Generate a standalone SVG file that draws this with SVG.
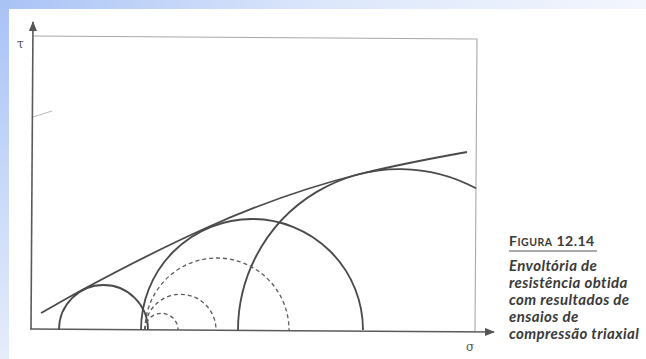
<svg xmlns="http://www.w3.org/2000/svg" width="646" height="359" viewBox="0 0 646 359">
  <defs>
    <linearGradient id="gTop" x1="0" y1="0" x2="1" y2="0">
      <stop offset="0" stop-color="#a9c3f6"/>
      <stop offset="0.5" stop-color="#dce7fb"/>
      <stop offset="1" stop-color="#f3f6fd"/>
    </linearGradient>
    <linearGradient id="gLeft" x1="0" y1="0" x2="0" y2="1">
      <stop offset="0" stop-color="#a9c3f6"/>
      <stop offset="1" stop-color="#e6edfb"/>
    </linearGradient>
    <marker id="arr" markerWidth="10" markerHeight="8" refX="9" refY="4" orient="auto" markerUnits="userSpaceOnUse">
      <path d="M0,0 L10,4 L0,8 Z" fill="#555"/>
    </marker>
    <style>
      .axis { stroke: #5a5a5a; stroke-width: 1.6; fill: none; }
      .box { stroke: #a8a8a8; stroke-width: 1.1; fill: none; }
      .solid { stroke: #4a4a4a; stroke-width: 1.8; fill: none; }
      .dash { stroke: #5a5a5a; stroke-width: 1.3; fill: none; stroke-dasharray: 4 3; }
      .sym { font-family: "DejaVu Serif", "Liberation Serif", serif; font-size: 12px; fill: #555; }
      .cap { font-family: Lato, "Liberation Sans", sans-serif; font-style: italic; font-weight: bold; font-size: 15px; letter-spacing: 0.4px; fill: #3a3a3a; }
      .fig { font-family: Lato, "Liberation Sans", sans-serif; font-weight: bold; letter-spacing: 0.5px; fill: #3a3a3a; }
    </style>
  </defs>

  <!-- background -->
  <rect x="0" y="0" width="646" height="359" fill="#ffffff"/>
  <rect x="0" y="0" width="646" height="9" fill="url(#gTop)"/>
  <rect x="0" y="0" width="9" height="359" fill="url(#gLeft)"/>

  <!-- frame and axes -->
  <g id="frame">
    <path class="box" d="M33,36 L477,39 L475,331"/>
    <path d="M33,117 L52,111" stroke="#b0b0b0" stroke-width="0.9" fill="none"/>
  </g>
  <g id="axes">
    <path class="axis" d="M31,329 L33,22" marker-end="url(#arr)"/>
    <path class="axis" d="M30,329 L494,332" marker-end="url(#arr)"/>
    <text class="sym" x="17" y="48">τ</text>
    <text class="sym" x="466" y="351">σ</text>
  </g>

  <!-- circles -->
  <g id="circle1"><path class="solid" d="M59,329.5 A44.5,44.5 0 0 1 148,329.5"/></g>
  <g id="circle2"><path class="solid" d="M141,330 A111,111 0 0 1 363,330"/></g>
  <g id="circle3"><path class="solid" d="M238,330.5 A161.5,161.5 0 0 1 476,188.3"/></g>
  <g id="dashed1"><path class="dash" d="M145,329.8 A16.5,16.5 0 0 1 178,329.8"/></g>
  <g id="dashed2"><path class="dash" d="M145,329.8 A35.5,35.5 0 0 1 216,329.8"/></g>
  <g id="dashed3"><path class="dash" d="M145,330 A72,72 0 0 1 289,330"/></g>

  <!-- envelope -->
  <g id="envelope">
    <path class="solid" d="M41,313 C54.7,305.3 68.3,297.4 82,290 C123.3,267.7 164.7,246.6 206,228 C257.3,204.9 308.7,186.8 360,174 C395.7,165.1 431.3,158.4 467,152"/>
  </g>

  <!-- caption -->
  <g id="caption">
    <text class="fig" x="509" y="246"><tspan font-size="14">F</tspan><tspan font-size="10.5">IGURA</tspan><tspan font-size="14"> 12.14</tspan></text>
    <line x1="509" y1="251" x2="597" y2="251" stroke="#555" stroke-width="1"/>
    <text class="cap" x="509" y="271">Envoltória de</text>
    <text class="cap" x="509" y="288">resistência obtida</text>
    <text class="cap" x="509" y="305">com resultados de</text>
    <text class="cap" x="509" y="322">ensaios de</text>
    <text class="cap" x="509" y="339">compressão triaxial</text>
  </g>
</svg>
